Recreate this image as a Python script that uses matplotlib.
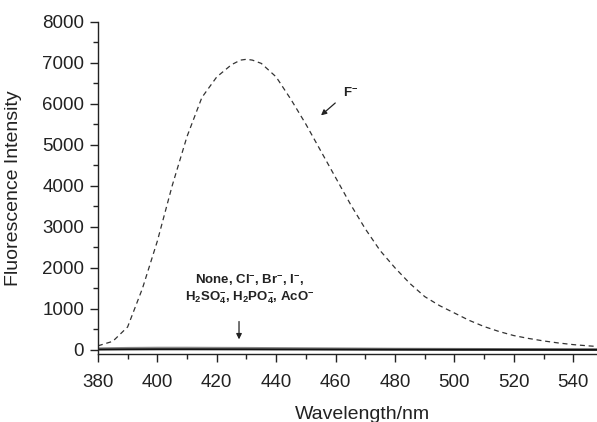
import numpy as np
import matplotlib
matplotlib.use("Agg")
import matplotlib.pyplot as plt

plt.rcParams['font.family'] = ['Liberation Sans', 'DejaVu Sans']
plt.rcParams['mathtext.fontset'] = 'custom'
plt.rcParams['mathtext.rm'] = 'Liberation Sans:bold'
plt.rcParams['mathtext.it'] = 'Liberation Sans:bold'
plt.rcParams['mathtext.bf'] = 'Liberation Sans:bold'

# F- emission spectrum
wl_f = [380, 385, 390, 395, 400, 405, 410, 415, 420, 425, 428, 430, 432, 435,
        440, 445, 450, 455, 460, 465, 470, 475, 480, 485, 490, 495, 500, 505,
        510, 515, 520, 525, 530, 535, 540, 545, 548]
int_f = [100, 210, 560, 1500, 2650, 4000, 5200, 6150, 6650, 6950, 7060, 7080,
         7060, 6980, 6650, 6100, 5500, 4850, 4200, 3550, 2950, 2420, 2000,
         1620, 1300, 1080, 900, 720, 570, 450, 350, 280, 220, 170, 130, 100, 85]

# other anions / blank: almost flat near zero
wl_blank = [380, 390, 400, 410, 420, 430, 440, 450, 460, 470, 480, 490, 500,
            510, 520, 530, 540, 548]
int_blank_a = [30, 40, 45, 45, 42, 40, 36, 32, 28, 24, 20, 18, 16, 14, 12, 10, 9, 8]
int_blank_b = [10, 14, 16, 16, 15, 14, 12, 11, 10, 9, 8, 7, 6, 6, 5, 5, 4, 4]

fig = plt.figure(figsize=(5.97, 4.22), dpi=100)
ax = fig.add_axes([0.164, 0.161, 0.836, 0.788])

ax.plot(wl_f, int_f, color='#333333', lw=0.9, ls=(0, (4, 3)))
ax.plot(wl_blank, int_blank_a, color='#888888', lw=2.0)
ax.plot(wl_blank, int_blank_b, color='#111111', lw=1.4)

ax.set_xlim(380, 548)
ax.set_ylim(-100, 8000)
ax.set_xticks(np.arange(380, 541, 20))
ax.set_xticks(np.arange(390, 548, 20), minor=True)
ax.set_yticks(np.arange(0, 8001, 1000))
ax.set_yticks(np.arange(500, 8000, 1000), minor=True)

for s in ['top', 'right']:
    ax.spines[s].set_visible(False)
for s in ['left', 'bottom']:
    ax.spines[s].set_linewidth(1.0)
    ax.spines[s].set_color('#222222')

ax.tick_params(axis='both', which='major', direction='out', length=6,
               width=1.0, color='#222222', labelsize=13.5, labelcolor='#222222')
ax.tick_params(axis='both', which='minor', direction='out', length=3.5,
               width=1.0, color='#222222')
ax.tick_params(axis='x', which='major', pad=8)
ax.tick_params(axis='y', which='major', pad=4)

ax.set_xlabel('Wavelength/nm', fontsize=14, color='#222222')
ax.set_ylabel('Fluorescence Intensity', fontsize=14, color='#222222')
ax.xaxis.set_label_coords(0.531, -0.155)
ax.yaxis.set_label_coords(-0.152, 0.5)

ax.annotate('', xy=(454.4, 5670), xytext=(460.6, 6060),
            arrowprops=dict(arrowstyle='-|>', color='#222222', lw=0.9,
                            mutation_scale=8))
ax.text(465, 6250, r'F$^{-}$', fontsize=9.5, fontweight='bold',
        ha='center', va='center', color='#222222')

ax.annotate('', xy=(427.5, 190), xytext=(427.5, 760),
            arrowprops=dict(arrowstyle='-|>', color='#222222', lw=0.9,
                            mutation_scale=8))
ax.text(431, 1700, r'None, Cl$^{-}$, Br$^{-}$, I$^{-}$,', fontsize=9.5,
        fontweight='bold', ha='center', va='center', color='#222222')
ax.text(431, 1270, r'H$_{2}$SO$_{4}^{-}$, H$_{2}$PO$_{4}^{-}$, AcO$^{-}$',
        fontsize=9.5, fontweight='bold', ha='center', va='center',
        color='#222222')

fig.savefig('out.png', dpi=100)
